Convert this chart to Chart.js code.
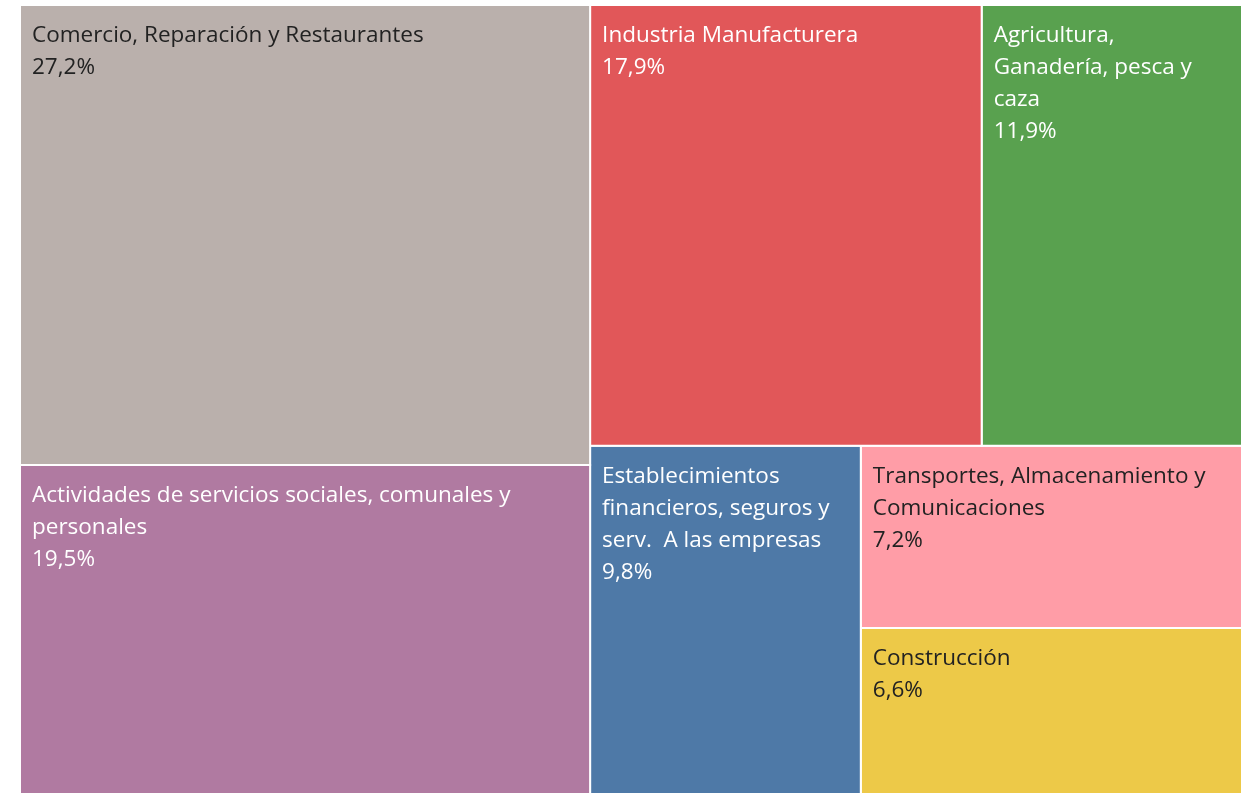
<!DOCTYPE html>
<html>
<head>
<meta charset="utf-8">
<script src="https://cdn.jsdelivr.net/npm/chart.js@4.4.1/dist/chart.umd.min.js"></script>
<style>
  html, body { margin: 0; padding: 0; background: #fff; }
  #wrap { width: 1243px; height: 793px; }
</style>
</head>
<body>
<div id="wrap"><canvas id="treeCanvas"></canvas></div>
<script>
// sectores y participacion (%)
var sectors = [
  'Comercio, Reparación y Restaurantes',
  'Industria Manufacturera',
  'Agricultura, Ganadería, pesca y caza',
  'Actividades de servicios sociales, comunales y personales',
  'Establecimientos financieros, seguros y serv.  A las empresas',
  'Transportes, Almacenamiento y Comunicaciones',
  'Construcción'
];
var shares = [27.2, 17.9, 11.9, 19.5, 9.8, 7.2, 6.6];
var shareLabels = ['27,2%', '17,9%', '11,9%', '19,5%', '9,8%', '7,2%', '6,6%'];
// lineas del texto como en el original
var labelLines = [
  ['Comercio, Reparación y Restaurantes'],
  ['Industria Manufacturera'],
  ['Agricultura,', 'Ganadería, pesca y', 'caza'],
  ['Actividades de servicios sociales, comunales y', 'personales'],
  ['Establecimientos', 'financieros, seguros y', 'serv.  A las empresas'],
  ['Transportes, Almacenamiento y', 'Comunicaciones'],
  ['Construcción']
];
var colors = ['#BAB0AC', '#E15759', '#59A14F', '#B07AA1', '#4E79A7', '#FF9DA7', '#EDC948'];
var textColors = ['#222', '#fff', '#fff', '#fff', '#fff', '#222', '#222'];

// estructura del mosaico: h = corte horizontal (columnas), v = corte vertical (filas)
var tree = {dir: 'h', kids: [
  {dir: 'v', kids: [0, 3]},
  {dir: 'v', kids: [
    {dir: 'h', kids: [1, 2]},
    {dir: 'h', kids: [4, {dir: 'v', kids: [5, 6]}]}
  ]}
]};

function total(node) {
  if (typeof node === 'number') return shares[node];
  var s = 0;
  node.kids.forEach(function(k) { s += total(k); });
  return s;
}

var rects = [];
function slice(node, x0, y0, x1, y1) {
  if (typeof node === 'number') {
    rects[node] = {x0: x0, y0: y0, x1: x1, y1: y1};
    return;
  }
  var sum = total(node);
  var pos = node.dir === 'h' ? x0 : y0;
  node.kids.forEach(function(k) {
    var f = total(k) / sum;
    if (node.dir === 'h') {
      var w = (x1 - x0) * f;
      slice(k, pos, y0, pos + w, y1);
      pos += w;
    } else {
      var h = (y1 - y0) * f;
      slice(k, x0, pos, x1, pos + h);
      pos += h;
    }
  });
}
slice(tree, 0, 0, 100, 100);

var datasets = [];
for (let i = 0; i < sectors.length; i++) {
  var r = rects[i];
  datasets.push({
    label: sectors[i],
    data: [
      {x: r.x0, y: r.y0}, {x: r.x1, y: r.y0}, {x: r.x1, y: r.y1},
      {x: r.x0, y: r.y1}, {x: r.x0, y: r.y0}
    ],
    showLine: true,
    fill: 'shape',
    backgroundColor: colors[i],
    borderColor: '#ffffff',
    borderWidth: 2,
    pointRadius: 0,
    pointHoverRadius: 0,
    tension: 0,
    clip: 0
  });
}

var labelPlugin = {
  id: 'cellLabels',
  afterDatasetsDraw: function(chart) {
    var ctx = chart.ctx;
    var xs = chart.scales.x, ys = chart.scales.y;
    ctx.save();
    ctx.font = '22.5px "Open Sans"';
    ctx.textBaseline = 'alphabetic';
    for (let i = 0; i < sectors.length; i++) {
      var r = rects[i];
      var left = xs.getPixelForValue(r.x0) + 12;
      var top = ys.getPixelForValue(r.y0);
      var lines = labelLines[i].concat([shareLabels[i]]);
      ctx.fillStyle = textColors[i];
      for (let j = 0; j < lines.length; j++) {
        ctx.fillText(lines[j], left, top + 37 + j * 32);
      }
    }
    ctx.restore();
  }
};

new Chart(document.getElementById('treeCanvas'), {
  type: 'scatter',
  data: {datasets: datasets},
  options: {
    responsive: true,
    maintainAspectRatio: false,
    animation: false,
    layout: {padding: {left: 20, top: 5, right: 1, bottom: 0}},
    scales: {
      x: {type: 'linear', min: 0, max: 100, display: false},
      // la base del mosaico queda un poco por debajo del borde, como en el original
      y: {type: 'linear', min: 0, max: 99.75, reverse: true, display: false}
    },
    plugins: {
      legend: {display: false},
      tooltip: {enabled: false}
    }
  },
  plugins: [labelPlugin]
});
</script>
</body>
</html>
